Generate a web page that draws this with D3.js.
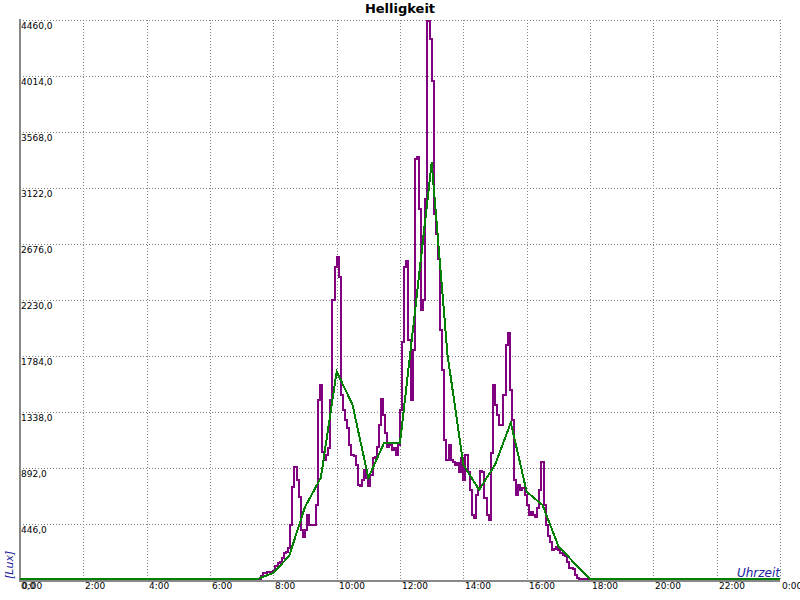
<!DOCTYPE html>
<html><head><meta charset="utf-8">
<script src="https://cdn.jsdelivr.net/npm/d3@7"></script>
<style>body{margin:0;background:#fff}svg{display:block}</style>
</head><body>
<svg id="c" width="800" height="600"></svg>
<script>
const chartTitle = "Helligkeit";
const yAxisLabel = "[Lux]";
const xAxisLabel = "Uhrzeit";
const yTickValues = [0, 446, 892, 1338, 1784, 2230, 2676, 3122, 3568, 4014, 4460];
const xTickHours = [0, 2, 4, 6, 8, 10, 12, 14, 16, 18, 20, 22, 24];

// purple: measured brightness (minutes since midnight, lux)
const purpleMinutes = [0, 452,
 456,460,464,468,472,476,480,484,488,492,496,500,504,508,512,
 516,520,524,528,532,536,540,544,548,552,556,560,564,568,572,
 576,580,584,588,592,596,600,604,608,612,616,620,624,628,632,
 636,640,644,648,652,656,660,664,668,672,676,680,684,688,692,
 696,700,704,708,712,716,720,724,728,732,736,740,744,748,752,
 756,760,764,768,772,776,780,784,788,792,796,800,804,808,812,
 816,820,824,828,832,836,840,844,848,852,856,860,864,868,872,
 876,880,884,888,892,896,900,904,908,912,916,920,924,928,932,
 936,940,944,948,952,956,960,964,968,972,976,980,984,988,992,
 996,1000,1004,1008,1012,1016,1020,1024,1028,1032,1036,1040,1044,1048,1052,
 1056,1060, 1440];
const purpleLux = [0, 0,
 24,48,48,56,56,48,64,104,128,136,168,207,215,247,431,
 734,894,790,654,391,335,391,511,431,431,431,590,1428,1548,1013,
 950,989,1045,1428,2226,2481,2561,2402,1468,1348,1269,1205,1069,989,981,
 910,750,742,790,870,806,742,830,965,973,1053,1229,1436,1309,1165,
 1053,1069,1029,1045,989,1069,1348,1891,2481,2529,1907,1428,1827,3343,3359,
 2944,2146,2226,3024,4444,4301,3966,2904,2745,2545,1987,1668,1109,950,1069,
 950,934,910,926,854,965,790,989,854,710,511,487,670,726,862,
 854,646,511,471,1005,1548,1388,1309,1229,1229,1468,1867,1963,1508,1269,
 790,670,750,710,726,670,590,511,535,511,495,567,710,934,590,
 431,343,295,231,239,255,231,207,191,183,136,88,88,80,32,
 8,0, 0];

// green: half-hour averages
const greenMinutes = [0, 450, 480, 510, 540, 570, 600, 630, 660, 690, 720, 750, 780, 810, 840, 870, 900, 930, 960, 990, 1020, 1050, 1080, 1440];
const greenLux = [0, 0, 48, 184, 574, 806, 1652, 1388, 806, 1085, 1085, 2186, 3319, 1787, 910, 710, 910, 1245, 694, 590, 263, 128, 0, 0];

const W = 800, H = 600;
const L = 20, R = 780, T = 20, B = 580;
const svg = d3.select("#c");

const x = d3.scaleLinear().domain([0, 1440]).range([L, R]);
const y = d3.scaleLinear().domain([0, 4460]).range([B, T]);

const font = "DejaVu Sans, Verdana, sans-serif";

// grid
const grid = svg.append("g").attr("stroke", "#808080").attr("stroke-width", 1)
  .attr("stroke-dasharray", "1,2").attr("shape-rendering", "crispEdges");
grid.selectAll("line.h").data(yTickValues.filter(v => v > 0)).join("line")
  .attr("x1", L).attr("x2", R)
  .attr("y1", d => Math.round(y(d)) + 0.5).attr("y2", d => Math.round(y(d)) + 0.5);
grid.selectAll("line.v").data(xTickHours.filter(h => h > 0)).join("line")
  .attr("y1", T).attr("y2", B)
  .attr("x1", d => Math.round(x(d * 60)) + 0.5).attr("x2", d => Math.round(x(d * 60)) + 0.5);

// axes lines
svg.append("line").attr("x1", L).attr("x2", L).attr("y1", T - 1).attr("y2", B + 2)
  .attr("stroke", "#888").attr("stroke-width", 2).attr("shape-rendering", "crispEdges");
svg.append("line").attr("x1", L - 1).attr("x2", R).attr("y1", B + 1).attr("y2", B + 1)
  .attr("stroke", "#888").attr("stroke-width", 2).attr("shape-rendering", "crispEdges");

// series
const purple = purpleMinutes.map((m, i) => [m, purpleLux[i]]);
const green = greenMinutes.map((m, i) => [m, greenLux[i]]);
const g = svg.append("g").attr("transform", "translate(0,-1)");
g.append("path").datum(purple)
  .attr("d", d3.line().x(d => x(d[0])).y(d => y(d[1])).curve(d3.curveStepAfter))
  .attr("fill", "none").attr("stroke", "#800080").attr("stroke-width", 2)
  .attr("shape-rendering", "crispEdges");
g.append("path").datum(green)
  .attr("d", d3.line().x(d => x(d[0])).y(d => y(d[1])))
  .attr("fill", "none").attr("stroke", "#008000").attr("stroke-width", 2)
  .attr("shape-rendering", "crispEdges");

// y tick labels
svg.append("g").selectAll("text").data(yTickValues).join("text")
  .attr("x", L + 1).attr("y", d => Math.round(y(d)) + 9)
  .attr("font-family", font).attr("font-size", 9).attr("fill", "#000")
  .text(d => d.toFixed(1).replace(".", ","));

// x tick labels
svg.append("g").selectAll("text").data(xTickHours).join("text")
  .attr("x", d => Math.round(x(d * 60)) + 2).attr("y", 589)
  .attr("font-family", font).attr("font-size", 9).attr("fill", "#000")
  .text(d => (d % 24) + ":00");

// title
svg.append("text").attr("x", 400).attr("y", 13).attr("text-anchor", "middle")
  .attr("font-family", font).attr("font-size", 13).attr("font-weight", "bold")
  .text(chartTitle);

// axis labels
svg.append("text").attr("transform", "translate(13,579) rotate(-90)")
  .attr("font-family", font).attr("font-size", 11).attr("font-style", "italic")
  .attr("fill", "#2020a0").text(yAxisLabel);
svg.append("text").attr("x", 780).attr("y", 577).attr("text-anchor", "end")
  .attr("font-family", font).attr("font-size", 12).attr("font-style", "italic")
  .attr("fill", "#2020a0").text(xAxisLabel);
</script>
</body></html>
